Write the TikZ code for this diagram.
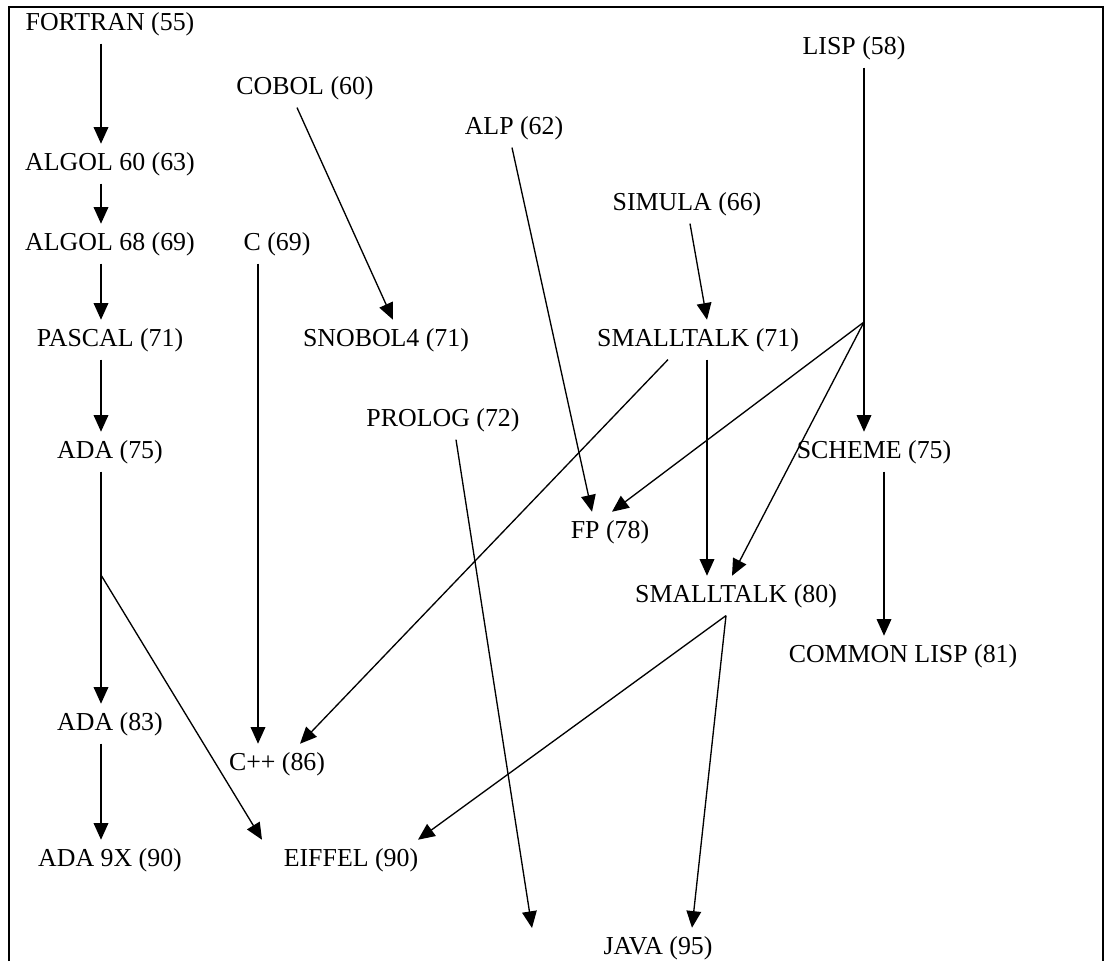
\documentclass[tikz,border=0pt]{standalone}
\usepackage{fontspec}
\setmainfont{Liberation Serif}
\usetikzlibrary{arrows.meta}
\begin{document}
\begin{tikzpicture}[x=0.75pt,y=-0.75pt,
	lang/.style={anchor=base,inner sep=0pt,inner ysep=6.5pt,text height=13pt,text depth=3.5pt,font=\fontsize{19.4}{23}\selectfont},
	link/.style={line width=1pt,-{Triangle[length=12.5pt,width=11pt]}}]
\useasboundingbox (0,0) rectangle (1106,961);
\draw[line width=1.5pt] (9,961) -- (9,7) -- (1103,7) -- (1103,961);
\foreach \n/\x/\y/\t in {fortran/110/30/FORTRAN (55), cobol/305/94/COBOL (60), alp/514/134/ALP (62), lisp/854/54/LISP (58),
	algolsixty/110/170/ALGOL 60 (63), simula/687/210/SIMULA (66), algolsixtyeight/110/250/ALGOL 68 (69), c/277/250/C (69),
	pascal/110/346/PASCAL (71), snobol/386/346/SNOBOL4 (71), smalltalkA/698/346/SMALLTALK (71), prolog/443/426/PROLOG (72),
	adaA/110/458/ADA (75), scheme/874/458/SCHEME (75), fp/610/538/FP (78), smalltalkB/736/602/SMALLTALK (80),
	commonlisp/903/662/COMMON LISP (81), adaB/110/730/ADA (83), cpp/277/770/C++ (86), adaninex/110/866/ADA 9X (90),
	eiffel/351/866/EIFFEL (90), java/658/954/JAVA (95)}
	\node[lang] (\n) at (\x,\y) {\t};
\foreach \a/\b in {fortran/algolsixty, algolsixty/algolsixtyeight, algolsixtyeight/pascal, pascal/adaA, adaA/adaB, adaB/adaninex}
	\draw[link] ([xshift=-6.75pt]\a.south) -- ([xshift=-6.75pt]\b.north);
\coordinate (adafork) at (101,575);
\coordinate (lispfork) at (864,322);
\coordinate (prologend) at (532,928);
\draw[link] (adafork) -- ([xshift=-66.75pt]eiffel.north);
\draw[link] ([xshift=-14.25pt]c.south) -- ([xshift=-14.25pt]cpp.north);
\draw[link] ([xshift=-6pt]cobol.south) -- ([xshift=5.25pt]snobol.north);
\draw[link] ([xshift=-1.5pt]alp.south) -- ([xshift=-13.5pt]fp.north);
\draw[link] ([xshift=2.25pt]simula.south) -- ([xshift=6.75pt]smalltalkA.north);
\draw[link] ([xshift=-22.5pt]smalltalkA.south) -- ([xshift=17.25pt]cpp.north);
\draw[link] ([xshift=6.75pt]smalltalkA.south) -- ([xshift=-21.75pt]smalltalkB.north);
\draw[link] ([xshift=7.5pt]lisp.south) -- ([xshift=-7.5pt]scheme.north);
\draw[link] (lispfork) -- ([xshift=1.5pt]fp.north);
\draw[link] (lispfork) -- ([xshift=-3pt]smalltalkB.north);
\draw[link] ([xshift=-7.5pt]smalltalkB.south) -- ([xshift=50.25pt]eiffel.north);
\draw[link] ([xshift=-7.5pt]smalltalkB.south) -- ([xshift=25.5pt]java.north);
\draw[link] ([xshift=7.5pt]scheme.south) -- ([xshift=-14.25pt]commonlisp.north);
\draw[link] ([xshift=9.75pt]prolog.south) -- (prologend);
\end{tikzpicture}
\end{document}
